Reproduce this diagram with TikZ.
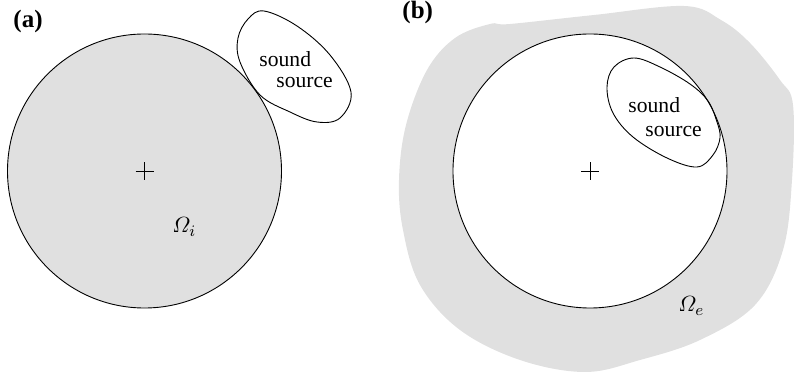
\documentclass[tikz,border=0pt]{standalone}
\usepackage{fontspec}
\usepackage{amsmath}
\setmainfont{Liberation Serif}
\definecolor{regiongray}{RGB}{224,224,224}
\begin{document}
\begin{tikzpicture}[x=0.5pt,y=-0.5pt, line width=0.45pt,
  txt/.style={font=\fontsize{10.8}{13}\selectfont, inner sep=0, anchor=base west},
  panel/.style={font=\fontsize{12.5}{15}\selectfont\bfseries, inner sep=0, anchor=base west},
  region/.style={circle, draw=black, inner sep=0, minimum size=137pt},
  blob/.style={draw=black, smooth cycle, tension=0.6},
  crossline/.style={line width=0.4pt}]
\useasboundingbox (0,0) rectangle (794,373);

% ---------- panel (a)
\node[panel] (pa) at (13,28) {(a)};
\node[region, fill=regiongray] (ca) at (144.5,171) {};
\draw[crossline] ([xshift=-4.5pt]ca.center) -- ([xshift=4.5pt]ca.center);
\draw[crossline] ([yshift=-4.5pt]ca.center) -- ([yshift=4.5pt]ca.center);
\draw[blob] plot coordinates {(264,11) (297,26) (330,55) (351,92) (340,118) (317,122) (290,112) (260,95) (240,62) (238,38) (248,19)};
\node[txt] (sa1) at (259,67) {sound};
\node[txt] (sa2) at (276,88) {source};
\node[txt] (oi) at (172,233) {$\varOmega_i$};

% ---------- panel (b)
\node[panel] (pb) at (402,19) {(b)};
\fill[regiongray] plot[smooth cycle, tension=0.6] coordinates {(490,24) (510,24) (594,15) (684,6) (721,20) (750,43) (780,80) (793,105) (792,180) (783,250) (755,305) (700,340) (640,360) (585,372) (520,360) (460,330) (420,285) (403,230) (399,180) (406,125) (427,70) (455,38)};
\node[region, fill=white] (cb) at (590,171) {};
\draw[crossline] ([xshift=-4.5pt]cb.center) -- ([xshift=4.5pt]cb.center);
\draw[crossline] ([yshift=-4.5pt]cb.center) -- ([yshift=4.5pt]cb.center);
\draw[blob] plot coordinates {(634,58) (660,67) (690,84) (708,101) (717,122) (720,138) (713,155) (697,167) (667,158) (633,137) (613,113) (607,87) (614,67)};
\node[txt] (sb1) at (628,113) {sound};
\node[txt] (sb2) at (645,137) {source};
\node[txt] (oe) at (678,312) {$\varOmega_e$};
\end{tikzpicture}
\end{document}
